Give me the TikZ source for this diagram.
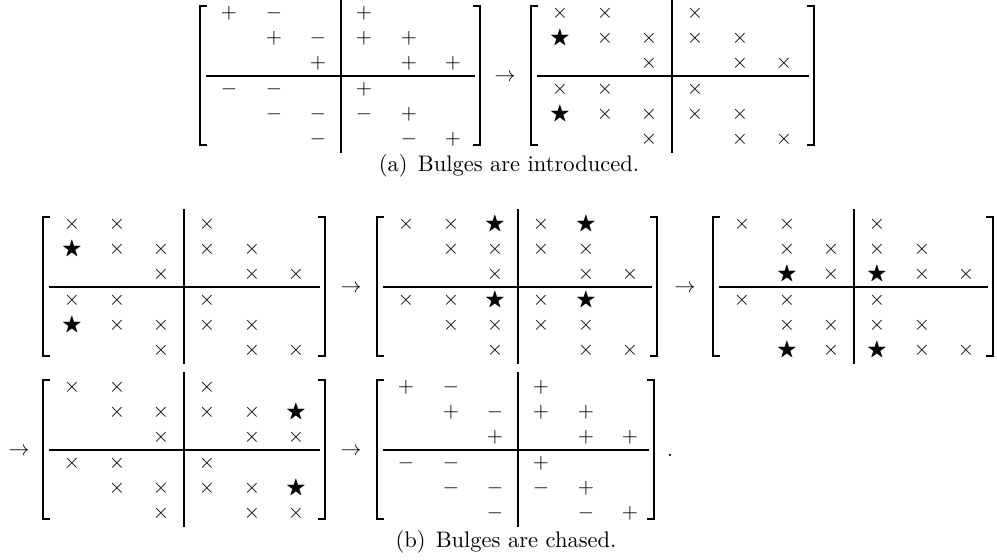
\documentclass[tikz,border=0pt]{standalone}
\usepackage{amssymb}
\tikzset{
  brk/.style={line width=0.6pt},
  rulel/.style={line width=1pt},
  ent/.style={anchor=base,inner sep=0pt,font=\normalsize},
  arr/.style={anchor=base,inner sep=0pt},
  capt/.style={anchor=base,inner sep=0pt,font=\fontsize{10.8}{13}\selectfont},
}
\def\symx{$\times$}
\def\syms{$\bigstar$}
\def\symp{$+$}
\def\symm{$-$}
% #1 name, #2 left x, #3 hline y, #4 right bracket offset, #5 36 codes
\newcommand\mtx[5]{%
 \begin{scope}[shift={(#2,#3)}]
  \coordinate (#1) at (0,0);
  \draw[brk] (7,-70) -- (0,-70) -- (0,69) -- (7,69);
  \draw[brk] (#4-7,-70) -- (#4,-70) -- (#4,69) -- (#4-7,69);
  \draw[rulel] (141,-78) -- (141,77);
  \draw[rulel] (6,0) -- (#4-5,0);
  \foreach \e [count=\c from 0] in {#5} {
    \pgfmathtruncatemacro\r{div(\c,6)}
    \pgfmathtruncatemacro\k{mod(\c,6)}
    \pgfmathsetmacro\xx{{29,74,118,164,209,253}[\k]}
    \pgfmathsetmacro\yy{{-63,-38,-13,13,38,63}[\r]+5}
    \if\e o\else
      \node[ent] (#1-\r-\k) at (\xx,\yy) {\csname sym\e\endcsname};
    \fi
  }
 \end{scope}}
\begin{document}
\begin{tikzpicture}[x=0.48pt,y=-0.48pt]
\useasboundingbox (0,0) rectangle (997,559);
\mtx{m1}{200}{76}{280}{p,m,o,p,o,o, o,p,m,p,p,o, o,o,p,o,p,p, m,m,o,p,o,o, o,m,m,m,p,o, o,o,m,o,m,p}
\mtx{m2}{531}{76}{283}{x,x,o,x,o,o, s,x,x,x,x,o, o,o,x,o,x,x, x,x,o,x,o,o, s,x,x,x,x,o, o,o,x,o,x,x}
\mtx{m3}{43}{287}{282}{x,x,o,x,o,o, s,x,x,x,x,o, o,o,x,o,x,x, x,x,o,x,o,o, s,x,x,x,x,o, o,o,x,o,x,x}
\mtx{m4}{377}{287}{280}{x,x,s,x,s,o, o,x,x,x,x,o, o,o,x,o,x,x, x,x,s,x,s,o, o,x,x,x,x,o, o,o,x,o,x,x}
\mtx{m5}{713}{287}{280}{x,x,o,x,o,o, o,x,x,x,x,o, o,s,x,s,x,x, x,x,o,x,o,o, o,x,x,x,x,o, o,s,x,s,x,x}
\mtx{m6}{43}{450}{282}{x,x,o,x,o,o, o,x,x,x,x,s, o,o,x,o,x,x, x,x,o,x,o,o, o,x,x,x,x,s, o,o,x,o,x,x}
\mtx{m7}{377}{450}{277}{p,m,o,p,o,o, o,p,m,p,p,o, o,o,p,o,p,p, m,m,o,p,o,o, o,m,m,m,p,o, o,o,m,o,m,p}
\node[arr] (a1) at (505,81) {$\rightarrow$};
\node[arr] (a2) at (351,292) {$\rightarrow$};
\node[arr] (a3) at (685,292) {$\rightarrow$};
\node[arr] (a4) at (19,455) {$\rightarrow$};
\node[arr] (a5) at (351,455) {$\rightarrow$};
\node[arr] (dot) at (670,456) {.};
\node[capt] (capa) at (509,171) {(a)\hspace{0.45em}Bulges are introduced.};
\node[capt] (capb) at (506,547) {(b)\hspace{0.45em}Bulges are chased.};
\end{tikzpicture}
\end{document}
